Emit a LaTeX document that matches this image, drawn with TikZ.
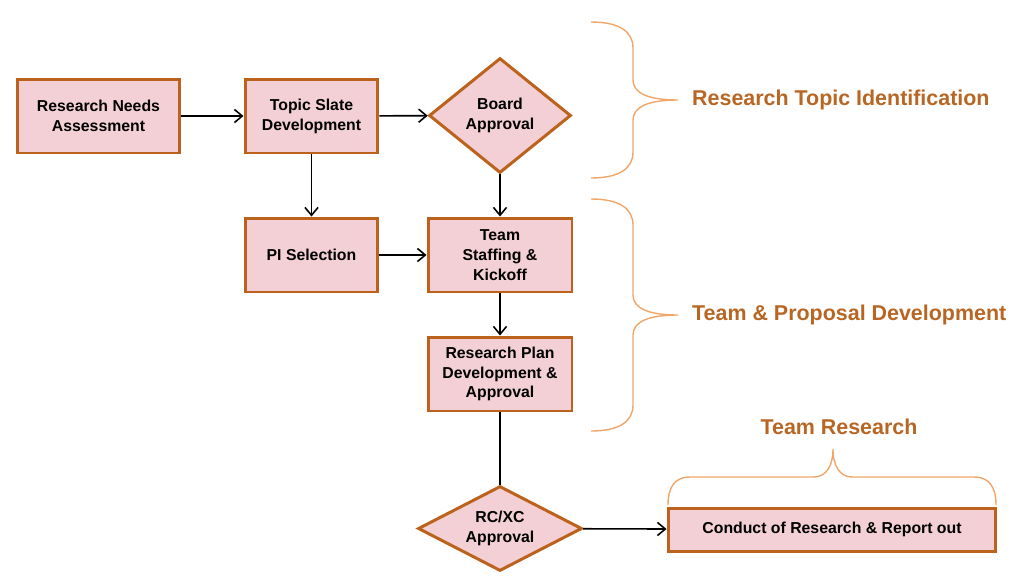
\documentclass[tikz,border=0pt]{standalone}
\usepackage{fontspec}
\setmainfont{Liberation Sans}
\usepackage{tikz}
\usetikzlibrary{positioning,calc}
\usetikzlibrary{arrows.meta,shapes.geometric}
\definecolor{BoxFill}{RGB}{243,208,213}
\definecolor{BoxEdge}{RGB}{188,98,28}
\definecolor{BraceOrange}{RGB}{240,166,104}
\definecolor{PhaseText}{RGB}{184,102,36}
\tikzset{
  proc/.style={rectangle,draw=BoxEdge,fill=BoxFill,line width=1.7pt,align=center,
    font=\fontsize{9}{11.3}\selectfont\bfseries,inner sep=2pt},
  gate/.style={diamond,draw=BoxEdge,fill=BoxFill,line width=1.7pt,align=center,
    font=\fontsize{9}{11.3}\selectfont\bfseries,inner sep=0pt},
  flow/.style={draw=black,line width=0.9pt,-{Straight Barb[length=4.5pt,width=7.5pt]}},
  link/.style={draw=black,line width=0.9pt},
  curly/.style={draw=BraceOrange,line width=0.8pt},
  phase/.style={text=PhaseText,font=\fontsize{12.2}{14}\selectfont\bfseries},
}

\begin{document}
\begin{tikzpicture}[x=0.02cm,y=-0.02cm]
\useasboundingbox (0,0) rectangle (1017,579);
\node[proc,minimum width=3.26cm,minimum height=1.48cm] (rna) at (98.5,116) {Research Needs\\Assessment};
\node[proc,minimum width=2.66cm,minimum height=1.48cm] (tsd) at (311.5,116) {Topic Slate\\Development};
\node[gate,shape aspect=1.23,minimum width=2.84cm,minimum height=2.3cm] (board) at (500,115.5) {Board\\Approval};
\node[proc,minimum width=2.66cm,minimum height=1.48cm] (pi) at (311.5,255) {PI Selection};
\node[proc,minimum width=2.88cm,minimum height=1.48cm] (team) at (500,255) {Team\\Staffing \&\\Kickoff};
\node[proc,minimum width=2.88cm,minimum height=1.48cm] (plan) at (500,374) {Research Plan\\Development \&\\Approval};
\node[gate,shape aspect=1.93,minimum width=3.28cm,minimum height=1.7cm] (rcxc) at (500,528.5) {RC/XC\\Approval};
\node[proc,minimum width=6.56cm,minimum height=0.86cm] (conduct) at (832,529.5) {Conduct of Research \& Report out};
% connectors
\draw[flow] (rna) -- (tsd);
\draw[flow] (tsd) -- (board);
\draw[flow] (tsd) -- (pi);
\draw[flow] (board) -- (team);
\draw[flow] (pi) -- (team);
\draw[flow] (team) -- (plan);
\draw[link] (plan) -- (rcxc);
\draw[flow] (rcxc) -- (conduct);
% braces
\draw[curly] (591,22) .. controls (620,22) and (633,32) .. (633,48) -- (633,80)
  .. controls (633,94) and (650,100) .. (678,100)
  .. controls (650,100) and (633,106) .. (633,120) -- (633,152)
  .. controls (633,168) and (620,178) .. (591,178);
\draw[curly] (591,199) .. controls (620,199) and (633,209) .. (633,225) -- (633,295)
  .. controls (633,309) and (650,315) .. (678,315)
  .. controls (650,315) and (633,321) .. (633,335) -- (633,405)
  .. controls (633,421) and (620,431) .. (591,431);
\draw[curly] (668,505) .. controls (668,488) and (674,477) .. (690,477) -- (814,477)
  .. controls (826,477) and (833,466) .. (833,449)
  .. controls (833,466) and (840,477) .. (852,477) -- (974,477)
  .. controls (990,477) and (996,488) .. (996,505);
\node[phase,anchor=west] (topicid) at (686,100) {Research Topic Identification};
\node[phase,anchor=west] (proposal) at (686,315) {Team \& Proposal Development};
\node[phase] (teamres) at (839,427) {Team Research};
\end{tikzpicture}
\end{document}
